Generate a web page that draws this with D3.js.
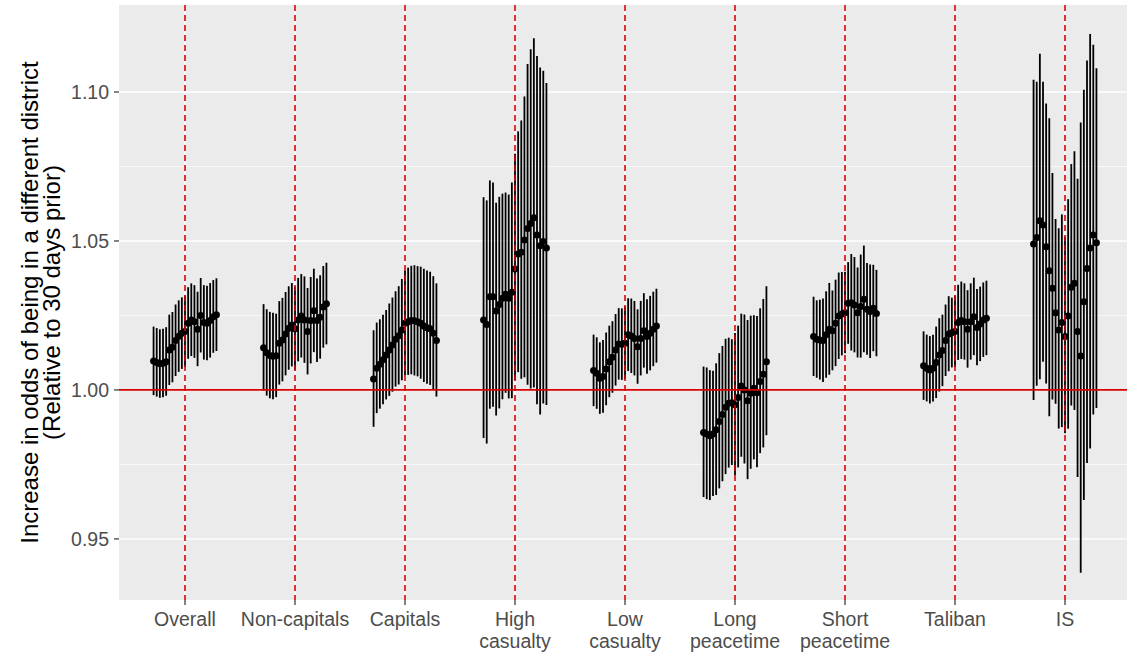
<!DOCTYPE html>
<html>
<head>
<meta charset="utf-8">
<script src="https://cdn.jsdelivr.net/npm/d3@7"></script>
<style>
  body { margin: 0; background: #fff; }
  svg { display: block; font-family: "Liberation Sans", Arial, Helvetica, sans-serif; }
</style>
</head>
<body>
<svg id="chart" width="1127" height="656"></svg>
<script>
// categories on the x axis (second line after \n)
const categories = ["Overall", "Non-capitals", "Capitals", "High\ncasualty", "Low\ncasualty",
  "Long\npeacetime", "Short\npeacetime", "Taliban", "IS"];

// point estimates, 21 per group (left to right)
const estOverall = [1.0097, 1.0092, 1.0088, 1.0090, 1.0095, 1.0134, 1.0143, 1.0166, 1.0180, 1.0190, 1.0196,
  1.0224, 1.0235, 1.0229, 1.0204, 1.0250, 1.0226, 1.0224, 1.0233, 1.0246, 1.0252];
const estNonCapitals = [1.0142, 1.0125, 1.0116, 1.0113, 1.0115, 1.0157, 1.0168, 1.0188, 1.0207, 1.0218, 1.0205,
  1.0235, 1.0248, 1.0235, 1.0196, 1.0233, 1.0266, 1.0233, 1.0244, 1.0278, 1.0289];
const estCapitals = [1.0037, 1.0073, 1.0086, 1.0101, 1.0117, 1.0134, 1.0151, 1.0170, 1.0182, 1.0201, 1.0224,
  1.0229, 1.0233, 1.0232, 1.0229, 1.0224, 1.0215, 1.0209, 1.0205, 1.0190, 1.0166];
const estHighCas = [1.0235, 1.0220, 1.0313, 1.0313, 1.0265, 1.0287, 1.0308, 1.0321, 1.0308, 1.0328, 1.0406,
  1.0456, 1.0462, 1.0503, 1.0542, 1.0559, 1.0578, 1.0520, 1.0484, 1.0498, 1.0476];
const estLowCas = [1.0065, 1.0056, 1.0039, 1.0045, 1.0070, 1.0095, 1.0110, 1.0134, 1.0154, 1.0153, 1.0157,
  1.0185, 1.0181, 1.0173, 1.0145, 1.0173, 1.0199, 1.0179, 1.0190, 1.0204, 1.0215];
const estLongPeace = [0.9857, 0.9852, 0.9846, 0.9852, 0.9866, 0.9894, 0.9918, 0.9942, 0.9955, 0.9957, 0.9950,
  0.9975, 1.0013, 1.0000, 0.9964, 0.9989, 1.0006, 0.9991, 1.0028, 1.0053, 1.0095];
const estShortPeace = [1.0179, 1.0170, 1.0168, 1.0166, 1.0185, 1.0204, 1.0199, 1.0224, 1.0248, 1.0255, 1.0259,
  1.0291, 1.0293, 1.0285, 1.0259, 1.0280, 1.0304, 1.0271, 1.0263, 1.0274, 1.0257];
const estTaliban = [1.0081, 1.0073, 1.0067, 1.0073, 1.0092, 1.0117, 1.0132, 1.0166, 1.0188, 1.0192, 1.0196,
  1.0226, 1.0233, 1.0229, 1.0204, 1.0229, 1.0246, 1.0210, 1.0221, 1.0235, 1.0241];
const estIS = [1.0490, 1.0512, 1.0568, 1.0554, 1.0481, 1.0400, 1.0341, 1.0259, 1.0201, 1.0226, 1.0179,
  1.0248, 1.0345, 1.0358, 1.0196, 1.0114, 1.0296, 1.0408, 1.0476, 1.0520, 1.0494];

// half width of the 95% interval, same order
const hwOverall = [0.0115, 0.0115, 0.0115, 0.0115, 0.0115, 0.0118, 0.0118, 0.0120, 0.0120, 0.0120, 0.0120,
  0.0120, 0.0122, 0.0122, 0.0125, 0.0125, 0.0125, 0.0125, 0.0125, 0.0122, 0.0122];
const hwNonCapitals = [0.0145, 0.0145, 0.0145, 0.0145, 0.0140, 0.0140, 0.0140, 0.0140, 0.0140, 0.0140, 0.0140,
  0.0140, 0.0140, 0.0145, 0.0145, 0.0145, 0.0140, 0.0140, 0.0140, 0.0137, 0.0137];
const hwCapitals = [0.0162, 0.0152, 0.0150, 0.0150, 0.0150, 0.0155, 0.0158, 0.0160, 0.0165, 0.0170, 0.0175,
  0.0180, 0.0182, 0.0185, 0.0185, 0.0188, 0.0190, 0.0190, 0.0190, 0.0190, 0.0190];
const hwHighCas = [0.0404, 0.0408, 0.0383, 0.0376, 0.0357, 0.0355, 0.0345, 0.0336, 0.0342, 0.0362, 0.0380,
  0.0404, 0.0433, 0.0471, 0.0538, 0.0569, 0.0586, 0.0584, 0.0582, 0.0558, 0.0540];
const hwLowCas = [0.0120, 0.0120, 0.0120, 0.0122, 0.0122, 0.0120, 0.0120, 0.0120, 0.0120, 0.0120, 0.0122,
  0.0122, 0.0125, 0.0125, 0.0125, 0.0125, 0.0125, 0.0125, 0.0125, 0.0125, 0.0124];
const hwLongPeace = [0.0219, 0.0221, 0.0218, 0.0210, 0.0221, 0.0227, 0.0227, 0.0227, 0.0218, 0.0211, 0.0238,
  0.0238, 0.0240, 0.0250, 0.0267, 0.0257, 0.0242, 0.0254, 0.0243, 0.0249, 0.0250];
const hwShortPeace = [0.0133, 0.0130, 0.0134, 0.0140, 0.0145, 0.0154, 0.0134, 0.0145, 0.0145, 0.0140, 0.0137,
  0.0137, 0.0162, 0.0160, 0.0151, 0.0173, 0.0179, 0.0154, 0.0157, 0.0145, 0.0145];
const hwTaliban = [0.0115, 0.0112, 0.0113, 0.0112, 0.0120, 0.0123, 0.0120, 0.0120, 0.0126, 0.0117, 0.0120,
  0.0126, 0.0130, 0.0128, 0.0130, 0.0128, 0.0130, 0.0128, 0.0125, 0.0125, 0.0125];
const hwIS = [0.0537, 0.0510, 0.0546, 0.0470, 0.0470, 0.0500, 0.0380, 0.0310, 0.0336, 0.0357, 0.0330,
  0.0385, 0.0405, 0.0434, 0.0500, 0.0755, 0.0688, 0.0675, 0.0695, 0.0620, 0.0570];

const estimates = [estOverall, estNonCapitals, estCapitals, estHighCas, estLowCas,
  estLongPeace, estShortPeace, estTaliban, estIS];
const halfWidths = [hwOverall, hwNonCapitals, hwCapitals, hwHighCas, hwLowCas,
  hwLongPeace, hwShortPeace, hwTaliban, hwIS];

const yTicks = [0.95, 1.00, 1.05, 1.10];
const yMinor = [0.975, 1.025, 1.075];

// flatten into one row per point; interval symmetric on the log-odds scale
const rows = [];
categories.forEach((c, g) => {
  estimates[g].forEach((e, i) => {
    const k = halfWidths[g][i] / e;
    rows.push({ cat: c, idx: i, est: e, lo: e * Math.exp(-k), hi: e * Math.exp(k) });
  });
});

const svg = d3.select("#chart");
const width = 1127, height = 656;
// panel runs a little past the right edge (the original is cropped there)
const panel = { left: 119, right: 1131, top: 5, bottom: 600 };

const x = d3.scalePoint()
  .domain(categories)
  .range([panel.left, panel.right])
  .padding(0.6);

// dodge 21 points over 0.6 of a category step
const nPts = 21;
const dodge = d3.scaleLinear()
  .domain([0, nPts - 1])
  .range([-0.3 + 0.3 / nPts, 0.3 - 0.3 / nPts].map(v => v * x.step()));

const y = d3.scaleLinear()
  .domain([0.9295, 1.1292])
  .range([panel.bottom, panel.top]);

// panel
svg.append("rect")
  .attr("x", panel.left).attr("y", panel.top)
  .attr("width", panel.right - panel.left).attr("height", panel.bottom - panel.top)
  .attr("fill", "#ebebeb");

const grid = svg.append("g");
grid.selectAll(".minor").data(yMinor).join("line")
  .attr("x1", panel.left).attr("x2", panel.right)
  .attr("y1", d => y(d)).attr("y2", d => y(d))
  .attr("stroke", "#fff").attr("stroke-width", 0.7);
grid.selectAll(".major").data(yTicks).join("line")
  .attr("x1", panel.left).attr("x2", panel.right)
  .attr("y1", d => y(d)).attr("y2", d => y(d))
  .attr("stroke", "#fff").attr("stroke-width", 1.4);
grid.selectAll(".vmajor").data(categories).join("line")
  .attr("x1", d => x(d)).attr("x2", d => x(d))
  .attr("y1", panel.top).attr("y2", panel.bottom)
  .attr("stroke", "#fff").attr("stroke-width", 1.4);

// error bars and points
const pts = svg.append("g");
pts.selectAll("line").data(rows).join("line")
  .attr("x1", d => x(d.cat) + dodge(d.idx))
  .attr("x2", d => x(d.cat) + dodge(d.idx))
  .attr("y1", d => y(d.lo))
  .attr("y2", d => y(d.hi))
  .attr("stroke", "#000").attr("stroke-width", 1.8);
pts.selectAll("circle").data(rows).join("circle")
  .attr("cx", d => x(d.cat) + dodge(d.idx))
  .attr("cy", d => y(d.est))
  .attr("r", 3.5)
  .attr("fill", "#000");

// reference lines
const red = "#d90000";
svg.append("g").selectAll("line").data(categories).join("line")
  .attr("x1", d => x(d)).attr("x2", d => x(d))
  .attr("y1", panel.top).attr("y2", panel.bottom)
  .attr("stroke", red).attr("stroke-width", 1.6)
  .attr("stroke-dasharray", "6,4");
svg.append("line")
  .attr("x1", panel.left).attr("x2", panel.right)
  .attr("y1", y(1)).attr("y2", y(1))
  .attr("stroke", red).attr("stroke-width", 1.8);

// y axis
const yAxis = svg.append("g");
yAxis.selectAll("line").data(yTicks).join("line")
  .attr("x1", panel.left - 5).attr("x2", panel.left)
  .attr("y1", d => y(d)).attr("y2", d => y(d))
  .attr("stroke", "#333").attr("stroke-width", 1.2);
yAxis.selectAll("text").data(yTicks).join("text")
  .attr("x", panel.left - 10)
  .attr("y", d => y(d))
  .attr("dy", "0.36em")
  .attr("text-anchor", "end")
  .attr("fill", "#4d4d4d")
  .style("font-size", "19.5px")
  .text(d => d3.format(".2f")(d));

// x axis
const xAxis = svg.append("g");
xAxis.selectAll("line").data(categories).join("line")
  .attr("x1", d => x(d)).attr("x2", d => x(d))
  .attr("y1", panel.bottom).attr("y2", panel.bottom + 5)
  .attr("stroke", "#333").attr("stroke-width", 1.2);
const xl = xAxis.selectAll("text").data(categories).join("text")
  .attr("text-anchor", "middle")
  .attr("fill", "#4d4d4d")
  .style("font-size", "19.5px");
xl.selectAll("tspan").data(d => d.split("\n").map(s => ({ s, c: d }))).join("tspan")
  .attr("x", d => x(d.c))
  .attr("y", (d, i) => panel.bottom + 26 + i * 22)
  .text(d => d.s);

// y title, two centred lines
const cy = (panel.top + panel.bottom) / 2;
["Increase in odds of being in a different district", "(Relative to 30 days prior)"].forEach((t, i) => {
  svg.append("text")
    .attr("transform", `translate(${38 + i * 22},${cy}) rotate(-90)`)
    .attr("text-anchor", "middle")
    .style("font-size", "24px")
    .attr("fill", "#000")
    .text(t);
});
</script>
</body>
</html>
